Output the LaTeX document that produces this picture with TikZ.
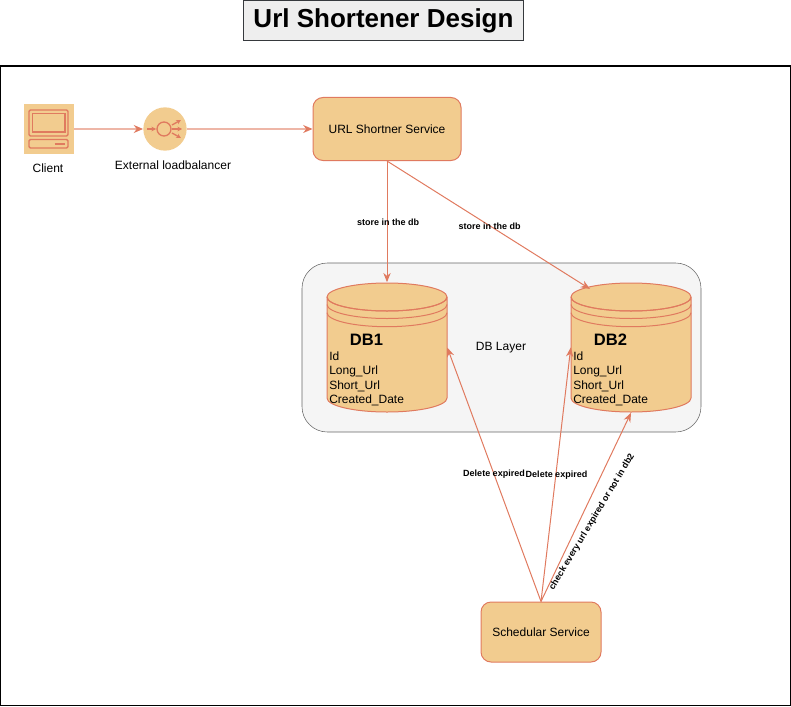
\documentclass[tikz,border=0pt]{standalone}
\usepackage{fontspec}
\setmainfont{Liberation Sans}
\usetikzlibrary{arrows.meta}
\definecolor{boxfill}{HTML}{F2CC8F}
\definecolor{boxline}{HTML}{E07A5F}
\definecolor{layerfill}{HTML}{F5F5F5}
\definecolor{layerline}{HTML}{666666}
\definecolor{titlefill}{HTML}{EEEEEE}
\definecolor{titleline}{HTML}{36393D}
\tikzset{
	service/.style={draw=boxline,fill=boxfill,rounded corners=7.5pt,line width=0.75pt,inner sep=0pt,font=\fontsize{9}{11}\selectfont},
	caption/.style={inner sep=0pt,font=\fontsize{9}{11}\selectfont},
	linktext/.style={inner sep=0pt,font=\fontsize{6.75}{8}\selectfont\bfseries},
	field/.style={inner sep=0pt,anchor=west,font=\fontsize{9}{11}\selectfont},
	link/.style={draw=boxline,line width=0.75pt,-{Stealth[length=7pt,width=5.5pt]}},
	feed/.style={draw=boxline!55,line width=1pt,-{Stealth[length=7pt,width=6pt,color=boxline]}},
	icon/.style={draw=boxline,line width=1pt},
	iconarrow/.style={icon,-{Stealth[length=3.5pt,width=3.5pt]}}
}
% cylinder with rings and its fields: name, centre x, heading
\newcommand{\dbdrum}[3]{
	\node (#1) at (#2,347.5) [minimum width=90pt,minimum height=97.5pt,inner sep=0pt] {};
	\draw[draw=boxline,fill=boxfill,line width=0.75pt] (#2-60,297) -- (#2-60,398) arc[start angle=180,end angle=360,x radius=60,y radius=-14] -- (#2+60,297) arc[start angle=0,end angle=360,x radius=60,y radius=-14];
	\draw[draw=boxline,line width=0.75pt] (#2-60,297) arc[start angle=180,end angle=360,x radius=60,y radius=-14];
	\draw[draw=boxline,line width=0.75pt] (#2-60,304.5) arc[start angle=180,end angle=360,x radius=60,y radius=-14];
	\draw[draw=boxline,line width=0.75pt] (#2-60,312.7) arc[start angle=180,end angle=360,x radius=60,y radius=-14];
	\node (#1head) at (#2-20.5,339.7) [inner sep=0pt,font=\fontsize{12.4}{14}\selectfont\bfseries] {#3};
	\node (#1id) at (#2-58,356.2) [field] {Id};
	\node (#1long) at (#2-58,371.2) [field] {Long\_Url};
	\node (#1short) at (#2-58,385.9) [field] {Short\_Url};
	\node (#1date) at (#2-58,400.4) [field] {Created\_Date};
}

\begin{document}
\begin{tikzpicture}[x=0.75pt,y=-0.75pt]
	\useasboundingbox (0,0) rectangle (791,706);
	%
	% frame and title
	\draw[black,line width=0.8pt] (0.5,66) rectangle (790.5,705.5);
	\node (title) at (383.5,20.5) [draw=titleline,fill=titlefill,line width=0.8pt,minimum width=210.5pt,minimum height=29.5pt,inner sep=0pt,font=\fontsize{19.5}{23}\selectfont\bfseries] {Url Shortener Design};
	%
	% db layer
	\draw[draw=layerline,fill=layerfill,rounded corners=19pt] (302,263) rectangle (701,432);
	\node (layer) at (501,347.5) [caption] {DB Layer};
	\dbdrum{dba}{387}{DB1}
	\dbdrum{dbb}{631}{DB2}
	\coordinate (dbbtop) at (590,289);
	%
	% client icon
	\node (client) at (49,129) [fill=boxfill,minimum size=37.5pt,inner sep=0pt] {};
	\draw[icon,rounded corners=1pt] (29,110) rectangle (68,136);
	\draw[icon] (32.5,113.5) rectangle (65,132);
	\draw[icon,rounded corners=1pt] (29,139.5) rectangle (68,148);
	\draw[boxline,line width=1.5pt] (54.5,143.5) -- (65,143.5);
	\node (clientname) at (48,168) [caption] {Client};
	%
	% load balancer icon
	\node (balancer) at (165,129) [circle,fill=boxfill,minimum size=32.5pt,inner sep=0pt] {};
	\draw[icon] (164,129) circle (7);
	\draw[iconarrow] (147,129) -- (156,129);
	\draw[iconarrow] (172,125) -- (181,120);
	\draw[iconarrow] (172,129) -- (182,129);
	\draw[iconarrow] (172,133) -- (181,138);
	\node (balancername) at (173,165) [caption] {External loadbalancer};
	%
	% services
	\node (shortner) at (387,129) [service,minimum width=111pt,minimum height=47.25pt] {URL Shortner Service};
	\node (schedular) at (541,632) [service,minimum width=90pt,minimum height=45pt] {Schedular Service};
	%
	% connectors
	\draw[feed] (client.east) -- (balancer.west);
	\draw[feed] (balancer.east) -- (shortner.west);
	\draw[link] (shortner.south) -- (dba.north);
	\draw[link] (shortner.south) -- (dbbtop);
	\draw[link] (schedular.north) -- (dba.east);
	\draw[link] (schedular.north) -- (dbb.west);
	\draw[link] (schedular.north) -- (dbb.south);
	%
	% connector labels
	\node (storea) at (388,222) [linktext] {store in the db};
	\node (storeb) at (489.5,226) [linktext] {store in the db};
	\node (deletea) at (494,474.5) [linktext] {Delete expired};
	\node (deleteb) at (556.5,475.5) [linktext] {Delete expired};
	\node (checkb) at (592,522) [linktext,rotate=59] {check every url expired or not in db2};
\end{tikzpicture}
\end{document}
